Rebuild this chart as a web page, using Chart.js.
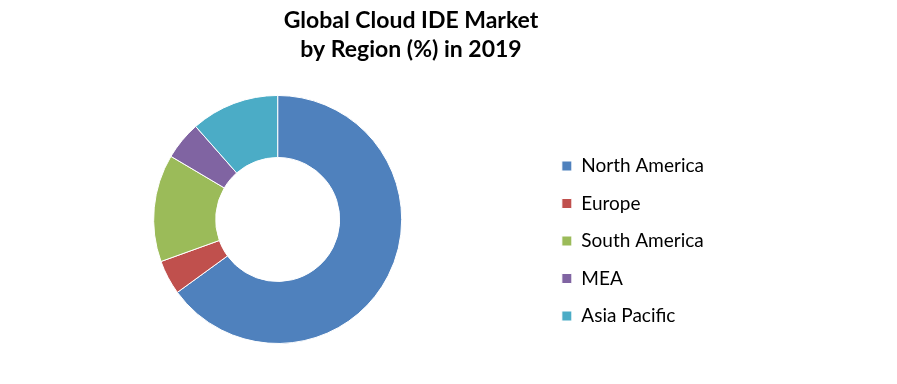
<html lang="en">
  <head>
    <title>Global Cloud IDE Market</title>
    <meta charset="utf-8">
    <script src="https://cdn.jsdelivr.net/npm/chart.js@4.4.1/dist/chart.umd.min.js"></script>
    <style>
      body { margin: 0; background: #fff; }
      #wrap { width: 897px; height: 384px; }
    </style>
  </head>
  <body>
  <div id="wrap"><canvas id="myChart" width="897" height="384"></canvas></div>
  <script>
    // share by region
    var regions = ["North America", "Europe", "South America", "MEA", "Asia Pacific"];
    var shares = [65, 4.5, 14, 5, 11.5];
    var colors = ["#4F81BD", "#C0504D", "#9BBB59", "#8064A2", "#4BACC6"];
    var titleLines = ["Global Cloud IDE Market", "by Region (%) in 2019"];

    // the title sits right of the doughnut's centre, so move its block after layout
    var titleShift = {
      id: 'titleShift',
      afterLayout: function(chart) {
        var t = chart.titleBlock;
        t.left = 0;
        t.right = 822;
        t.width = 822;
      }
    };

    var ctx = document.getElementById("myChart").getContext('2d');
    new Chart(ctx, {
      type: 'doughnut',
      data: {
        labels: regions,
        datasets: [{
          data: shares,
          backgroundColor: colors,
          borderColor: "#ffffff",
          borderWidth: 1
        }]
      },
      options: {
        responsive: false,
        animation: false,
        cutout: '50%',
        layout: { padding: { left: 12, right: 183, bottom: 40 } },
        plugins: {
          tooltip: { enabled: false },
          title: {
            display: true,
            text: titleLines,
            color: '#000',
            font: { family: 'Lato', size: 23, weight: 'bold', lineHeight: 1.26 },
            padding: { top: 6, bottom: 31 }
          },
          legend: {
            position: 'right',
            align: 'end',
            labels: {
              color: '#000',
              boxWidth: 10,
              boxHeight: 10,
              padding: 18.5,
              font: { family: 'Lato', size: 19 }
            }
          }
        }
      },
      plugins: [titleShift]
    });
  </script>
  </body>
</html>
